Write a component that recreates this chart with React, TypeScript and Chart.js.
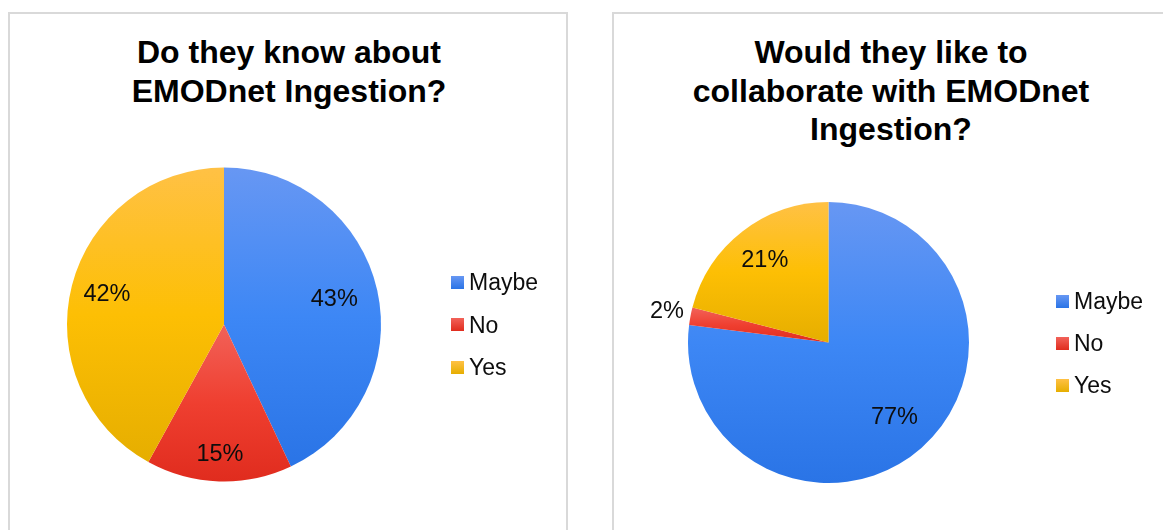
import React, { useEffect, useRef } from "react";
import { Chart, registerables } from "chart.js";

Chart.register(...registerables);

const categories = ["Maybe", "No", "Yes"];
const knowValues = [43, 15, 42];
const collaborateValues = [77, 2, 21];
const knowTitle = ["Do they know about", "EMODnet Ingestion?"];
const collaborateTitle = ["Would they like to", "collaborate with EMODnet", "Ingestion?"];

// gradient stops per category: top, middle, bottom
const sliceGradients = [
  ["#6797f3", "#3d87f5", "#2a74e6"],
  ["#f26259", "#ef3f30", "#e02c1e"],
  ["#ffc145", "#fdbf04", "#e6ae00"],
];

const FONT = '"Liberation Sans", Arial, sans-serif';

function sliceYRange(values: number[], idx: number, cy: number, r: number) {
  const total = values.reduce((a, b) => a + b, 0);
  let acc = 0;
  for (let i = 0; i < idx; i++) acc += values[i];
  const a0 = (acc / total) * 360;
  const a1 = ((acc + values[idx]) / total) * 360;
  const yAt = (deg: number) => cy - r * Math.cos((deg * Math.PI) / 180);
  let ymin = Math.min(cy, yAt(a0), yAt(a1));
  let ymax = Math.max(cy, yAt(a0), yAt(a1));
  if (a0 <= 0.0001 || a1 >= 359.999) ymin = cy - r;
  if (a0 <= 180 && a1 >= 180) ymax = cy + r;
  return [ymin, ymax];
}

const dataLabelPlugin = {
  id: "sliceLabels",
  afterDatasetsDraw(chart: any, _args: any, opts: any) {
    const ctx = chart.ctx;
    const meta = chart.getDatasetMeta(0);
    const data = chart.data.datasets[0].data as number[];
    const factors: number[] = opts.factors || [];
    ctx.save();
    ctx.font = `23.5px ${FONT}`;
    ctx.fillStyle = "#0d0d0d";
    ctx.textAlign = "center";
    ctx.textBaseline = "middle";
    meta.data.forEach((arc: any, i: number) => {
      const mid = (arc.startAngle + arc.endAngle) / 2;
      const d = arc.outerRadius * (factors[i] ?? 0.73);
      const x = arc.x + Math.cos(mid) * d;
      const y = arc.y + Math.sin(mid) * d;
      ctx.fillText(`${data[i]}%`, x, y);
    });
    ctx.restore();
  },
};

type PieProps = {
  values: number[];
  left: number;
  width: number;
  padding: { left: number; right: number; top: number; bottom: number };
  factors: number[];
};

function PieChart({ values, left, width, padding, factors }: PieProps) {
  const ref = useRef<HTMLCanvasElement | null>(null);
  useEffect(() => {
    if (!ref.current) return;
    const chart = new Chart(ref.current, {
      type: "pie",
      data: {
        labels: categories,
        datasets: [
          {
            data: values,
            borderWidth: 0,
            backgroundColor: (context: any) => {
              const c = context.chart;
              const area = c.chartArea;
              const i = context.dataIndex;
              const stops = sliceGradients[i % sliceGradients.length];
              if (!area || i === undefined) return stops[1];
              const cy = (area.top + area.bottom) / 2;
              const r = Math.min(area.right - area.left, area.bottom - area.top) / 2;
              const [y0, y1] = sliceYRange(values, i, cy, r);
              const g = c.ctx.createLinearGradient(0, y0, 0, y1);
              g.addColorStop(0, stops[0]);
              g.addColorStop(0.5, stops[1]);
              g.addColorStop(1, stops[2]);
              return g;
            },
          },
        ],
      },
      options: {
        animation: false,
        responsive: false,
        devicePixelRatio: 1,
        layout: { padding },
        plugins: {
          legend: { display: false },
          title: { display: false },
          tooltip: { enabled: false },
          sliceLabels: { factors },
        } as any,
      },
      plugins: [dataLabelPlugin],
    });
    return () => chart.destroy();
  }, []);
  return (
    <canvas
      ref={ref}
      width={width}
      height={530}
      style={{ position: "absolute", left, top: 0, width, height: 530 }}
    />
  );
}

function Legend({ left, top, gap }: { left: number; top: number; gap: number }) {
  return (
    <div style={{ position: "absolute", left, top, fontFamily: FONT, fontSize: 23, color: "#0d0d0d" }}>
      {categories.map((c, i) => (
        <div
          key={c}
          style={{ position: "absolute", left: 0, top: i * gap, height: 26, display: "flex", alignItems: "center", whiteSpace: "nowrap" }}
        >
          <div
            style={{
              width: 13,
              height: 13,
              marginRight: 5,
              background: `linear-gradient(${sliceGradients[i][0]}, ${sliceGradients[i][2]})`,
            }}
          />
          <span style={{ lineHeight: "26px" }}>{c}</span>
        </div>
      ))}
    </div>
  );
}

function Title({ lines, left, width }: { lines: string[]; left: number; width: number }) {
  return (
    <div
      style={{
        position: "absolute",
        left,
        top: 33,
        width,
        textAlign: "center",
        fontFamily: FONT,
        fontWeight: "bold",
        fontSize: 32,
        lineHeight: "38.5px",
        color: "#000",
      }}
    >
      {lines.map((l) => (
        <div key={l}>{l}</div>
      ))}
    </div>
  );
}

export default function App() {
  return (
    <div style={{ position: "absolute", left: 0, top: 0, width: 1163, height: 530, overflow: "hidden", background: "#fff" }}>
      <div style={{ position: "absolute", left: 8, top: 12, width: 560, height: 560, border: "2px solid #d9d9d9", boxSizing: "border-box" }} />
      <div style={{ position: "absolute", left: 612, top: 12, width: 600, height: 560, border: "2px solid #d9d9d9", boxSizing: "border-box" }} />
      <Title lines={knowTitle} left={10} width={558} />
      <Title lines={collaborateTitle} left={612} width={558} />
      <PieChart
        values={knowValues}
        left={0}
        width={590}
        padding={{ left: 67, right: 209, top: 167.5, bottom: 48.5 }}
        factors={[0.72, 0.83, 0.77]}
      />
      <PieChart
        values={collaborateValues}
        left={590}
        width={573}
        padding={{ left: 98, right: 194, top: 202, bottom: 47 }}
        factors={[0.71, 1.17, 0.74]}
      />
      <Legend left={451} top={269} gap={42.5} />
      <Legend left={1056} top={288} gap={42} />
    </div>
  );
}
